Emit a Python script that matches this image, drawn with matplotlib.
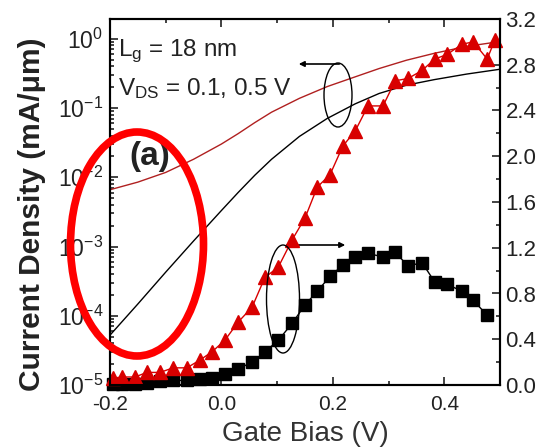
import numpy as np
import matplotlib
matplotlib.use("Agg")
from matplotlib import pyplot as plt
from matplotlib.patches import Ellipse
from matplotlib.ticker import LogLocator, MultipleLocator, NullFormatter

plt.rcParams['font.family'] = ['Liberation Sans', 'DejaVu Sans']
plt.rcParams['mathtext.fontset'] = 'custom'
plt.rcParams['mathtext.rm'] = 'Liberation Sans'
plt.rcParams['mathtext.it'] = 'Liberation Sans:italic'

# Gate bias points (V), shared by both marker series
vg = [-0.195, -0.178, -0.155, -0.134, -0.110, -0.087, -0.062, -0.038, -0.017, 0.006,
      0.030, 0.055, 0.078, 0.102, 0.127, 0.150, 0.172, 0.195, 0.218, 0.240,
      0.263, 0.290, 0.312, 0.335, 0.360, 0.383, 0.405, 0.432, 0.452, 0.477, 0.491]

# right axis (linear) - triangles Vds=0.5, squares Vds=0.1
tri = [0.06, 0.07, 0.07, 0.11, 0.11, 0.15, 0.15, 0.22, 0.29, 0.39,
       0.55, 0.68, 0.94, 1.03, 1.27, 1.46, 1.73, 1.84, 2.09, 2.22,
       2.44, 2.44, 2.66, 2.68, 2.75, 2.85, 2.89, 2.98, 3.00, 2.85, 3.02]
sq = [0.01, 0.01, 0.01, 0.02, 0.035, 0.04, 0.04, 0.05, 0.06, 0.10,
      0.14, 0.20, 0.29, 0.39, 0.54, 0.70, 0.82, 0.95, 1.05, 1.12,
      1.15, 1.12, 1.16, 1.04, 1.07, 0.90, 0.88, 0.82, 0.74, 0.61]

# left axis (log10 of current density) - current curves
vg_line = [-0.2, -0.15, -0.1, -0.05, 0.0, 0.03, 0.06, 0.09, 0.14, 0.19,
           0.24, 0.283, 0.332, 0.382, 0.44, 0.5]
log_id_01 = [-4.28, -3.83, -3.37, -2.92, -2.48, -2.22, -1.97, -1.74, -1.41, -1.15,
             -0.94, -0.79, -0.67, -0.59, -0.51, -0.44]
log_id_05 = [-2.18, -2.07, -1.93, -1.74, -1.52, -1.37, -1.21, -1.06, -0.86, -0.69,
             -0.55, -0.43, -0.31, -0.21, -0.11, -0.04]

W, H = 539, 448
fig = plt.figure(figsize=(W / 100, H / 100), dpi=100)
ax = fig.add_axes([110 / W, 1 - 385 / H, 390 / W, 366 / H])
ax2 = ax.twinx()

ax.semilogy(vg_line, 10 ** np.array(log_id_01), color='black', lw=1.0)
ax.semilogy(vg_line, 10 ** np.array(log_id_05), color='#b02020', lw=1.0)
ax.set_ylim(1e-5, 1.93)
ax.set_xlim(-0.2, 0.5)

ax2.plot(vg[:len(sq)], sq, color='black', marker='s', markersize=8, lw=1.0, clip_on=False)
ax2.plot(vg, tri, color='#d80000', marker='^', markersize=9.5, lw=1.0, clip_on=False)
ax2.set_ylim(0, 3.2)

tick_col = '#222222'
for a in (ax, ax2):
    for s in a.spines.values():
        s.set_linewidth(1.5)
ax.tick_params(axis='x', which='both', direction='in', top=True, labelsize=15, colors=tick_col, width=1.2, pad=7)
ax.tick_params(axis='y', which='both', direction='in', labelsize=16.5, colors=tick_col, width=1.2, pad=5)
ax.tick_params(which='major', length=6)
ax.tick_params(which='minor', length=3)
ax2.tick_params(which='both', direction='in', labelsize=16, colors=tick_col, width=1.2, pad=4)
ax2.tick_params(which='major', length=6)
ax2.tick_params(which='minor', length=3)

ax.xaxis.set_minor_locator(MultipleLocator(0.1))
ax.set_xticks([-0.2, 0.0, 0.2, 0.4])
ax.set_xticklabels(['-0.2', '0.0', '0.2', '0.4'])
ax.yaxis.set_major_locator(LogLocator(base=10, numticks=10))
ax.yaxis.set_minor_locator(LogLocator(base=10, subs=np.arange(2, 10), numticks=10))
ax.yaxis.set_minor_formatter(NullFormatter())
ax2.yaxis.set_minor_locator(MultipleLocator(0.2))
ax2.set_yticks([0.0, 0.4, 0.8, 1.2, 1.6, 2.0, 2.4, 2.8, 3.2])
ax2.set_yticklabels(['0.0', '0.4', '0.8', '1.2', '1.6', '2.0', '2.4', '2.8', '3.2'])

ax.set_xlabel('Gate Bias (V)', fontsize=20, color='#333333', labelpad=5)
ax.set_ylabel('Current Density (mA/\u03bcm)', fontsize=21.5, fontweight='bold', color=tick_col)
ax.yaxis.set_label_coords(-0.165, 0.467)

fig.text(118 / W, 1 - 56 / H, 'L$_\\mathrm{g}$ = 18 nm', fontsize=17.5, color=tick_col)
fig.text(118 / W, 1 - 95 / H, 'V$_\\mathrm{DS}$ = 0.1, 0.5 V', fontsize=17.5, color=tick_col)
fig.text(129 / W, 1 - 165 / H, '(a)', fontsize=24, fontweight='bold', color='#222222')

# annotation ellipses and arrows
fig.patches.append(Ellipse((338 / W, 1 - 95 / H), 28 / W, 64 / H, transform=fig.transFigure,
                           fill=False, ec='black', lw=1.0, zorder=5))
fig.patches.append(Ellipse((283 / W, 1 - 299 / H), 33 / W, 108 / H, transform=fig.transFigure,
                           fill=False, ec='black', lw=1.0, zorder=5))
fig.patches.append(Ellipse((137 / W, 1 - 244 / H), 133 / W, 224 / H, transform=fig.transFigure,
                           fill=False, ec='#ff0000', lw=5.5, zorder=6))
ax.annotate('', xy=(296 / W, 1 - 64 / H), xytext=(342 / W, 1 - 64 / H),
            xycoords='figure fraction', textcoords='figure fraction',
            arrowprops=dict(arrowstyle='-|>', color='black', lw=1.2, mutation_scale=8))
ax.annotate('', xy=(348 / W, 1 - 245 / H), xytext=(284 / W, 1 - 245 / H),
            xycoords='figure fraction', textcoords='figure fraction',
            arrowprops=dict(arrowstyle='-|>', color='black', lw=1.2, mutation_scale=8))

fig.savefig('out.png', dpi=100)
